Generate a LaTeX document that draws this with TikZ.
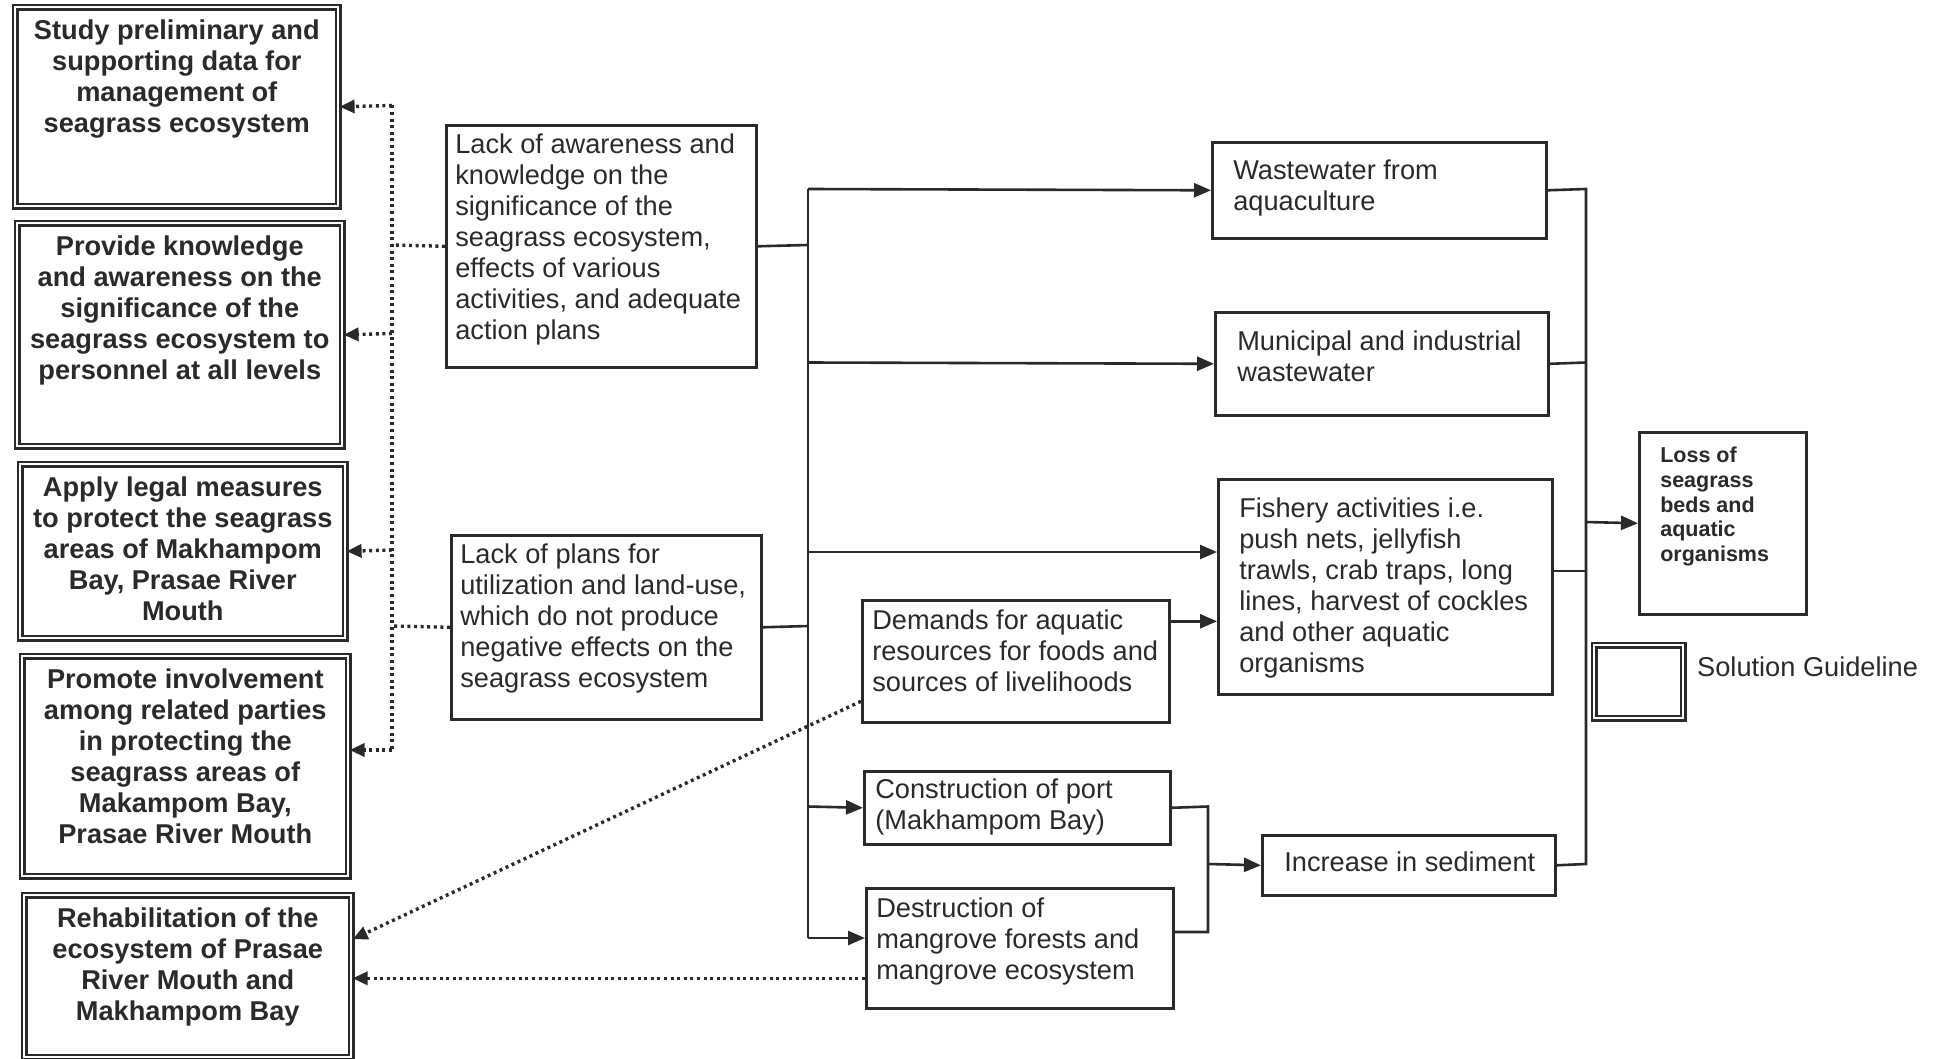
\documentclass[tikz,border=0pt]{standalone}
\usepackage{fontspec}
\setmainfont{Liberation Sans}
\usetikzlibrary{arrows.meta,calc}
\definecolor{ink}{HTML}{2A2A2A}
\newcommand{\solfont}{\fontsize{27.2}{31}\selectfont\bfseries}
\newcommand{\causefont}{\fontsize{27.2}{31}\selectfont}
\newcommand{\lossfont}{\fontsize{21.5}{24.6}\selectfont\bfseries}
\newcommand{\ctext}[4]{\parbox[c][#2pt][t]{#1pt}{\vspace*{#3pt}\centering #4\par}}
\newcommand{\ltext}[5]{\parbox[c][#2pt][t]{#1pt}{\vspace*{#3pt}\raggedright\leftskip=#4pt #5\par}}
\tikzset{
  sol/.style={draw=ink, double, line width=2.6pt, double distance=2.2pt, inner sep=0pt, anchor=north west, font=\solfont, text=ink},
  cause/.style={draw=ink, line width=2.6pt, inner sep=0pt, anchor=north west, font=\causefont, text=ink},
  losses/.style={cause, font=\lossfont},
  legtxt/.style={inner sep=0pt, anchor=west, font=\causefont, text=ink},
  conn/.style={draw=ink, line width=2.6pt},
  arr/.style={conn, -{Triangle[length=17pt,width=14pt]}},
  dotl/.style={draw=ink, line width=3.4pt, dash pattern=on 3pt off 3.6pt},
  dotarr/.style={dotl, -{Triangle[length=15pt,width=13pt]}}
}
\begin{document}
\begin{tikzpicture}[x=1pt,y=-1pt]
\fill[white] (0,0) rectangle (1938,1059);
\useasboundingbox (0,0) rectangle (1938,1059);

% solution guidelines (left)
\node[sol] (s1) at (14,6) {\ctext{323}{199}{12}{Study preliminary and\\supporting data for\\management of\\seagrass ecosystem}};
\node[sol] (s2) at (16,222) {\ctext{325}{223}{12}{Provide knowledge\\and awareness on the\\significance of the\\seagrass ecosystem to\\personnel at all levels}};
\node[sol] (s3) at (19,463) {\ctext{325}{174}{12}{Apply legal measures\\to protect the seagrass\\areas of Makhampom\\Bay, Prasae River\\Mouth}};
\node[sol] (s4) at (21,655) {\ctext{326}{220}{12}{Promote involvement\\among related parties\\in protecting the\\seagrass areas of\\Makampom Bay,\\Prasae River Mouth}};
\node[sol] (s5) at (23,894) {\ctext{327}{162}{12}{Rehabilitation of the\\ecosystem of Prasae\\River Mouth and\\Makhampom Bay}};

% causes
\node[cause] (ca) at (445,124) {\ltext{310}{242}{8}{9}{Lack of awareness and\\knowledge on the\\significance of the\\seagrass ecosystem,\\effects of various\\activities, and adequate\\action plans}};
\node[cause] (cb) at (450,534) {\ltext{310}{184}{8}{9}{Lack of plans for\\utilization and land-use,\\which do not produce\\negative effects on the\\seagrass ecosystem}};
\node[cause] (ww) at (1211,141) {\ltext{334}{96}{18}{21}{Wastewater from\\aquaculture}};
\node[cause] (mw) at (1214,311) {\ltext{333}{103}{18}{22}{Municipal and industrial\\wastewater}};
\node[cause] (fa) at (1217,478) {\ltext{334}{215}{18}{21}{Fishery activities i.e.\\push nets, jellyfish\\trawls, crab traps, long\\lines, harvest of cockles\\and other aquatic\\organisms}};
\node[cause] (dm) at (861,599) {\ltext{307}{122}{9}{10}{Demands for aquatic\\resources for foods and\\sources of livelihoods}};
\node[cause] (cp) at (863,770) {\ltext{306}{73}{7}{11}{Construction of port\\(Makhampom Bay)}};
\node[cause] (dmg) at (865,887) {\ltext{307}{120}{9}{10}{Destruction of\\mangrove forests and\\mangrove ecosystem}};
\node[cause] (is) at (1261,834) {\ltext{293}{60}{16}{22}{Increase in sediment}};
\node[losses] (loss) at (1638,431) {\ltext{167}{182}{15}{21}{Loss of\\seagrass\\beds and\\aquatic\\organisms}};

% legend
\node[sol, minimum width=89pt, minimum height=73pt] (leg) at (1593,644) {};
\node[legtxt] (legt) at (1697,667) {Solution Guideline};

% dotted links to solutions
\coordinate (b1) at (392,105.5);
\coordinate (b2) at (392,333.5);
\coordinate (b3) at (392,550);
\coordinate (b4) at (392,750);
\coordinate (bca) at (392,245);
\coordinate (bcb) at (392,626);
\draw[dotl] (b1) -- (b4);
\draw[dotl] (ca.west) -- (bca);
\draw[dotl] (cb.west) -- (bcb);
\draw[dotarr] (b1) -- (s1.east);
\draw[dotarr] (b2) -- (s2.east);
\draw[dotarr] (b3) -- (s3.east);
\draw[dotarr] (b4) -- (b4 -| s4.east);
\coordinate (dd) at ([yshift=-40pt]dm.west);
\coordinate (de) at ([yshift=37pt]s5.east);
\draw[dotarr] (dd) -- (de);
\coordinate (hd) at ([yshift=-30pt]dmg.west);
\draw[dotarr] (hd) -- (hd -| s5.east);

% trunk from causes
\coordinate (t1) at (808,189);
\coordinate (tca) at (808,245);
\coordinate (t2) at (808,362.5);
\coordinate (t3) at (808,552);
\coordinate (tcb) at (808,626);
\coordinate (t4) at (808,806.5);
\coordinate (t5) at (808,938);
\draw[conn] (t1) -- (t5);
\draw[conn] (ca.east) -- (tca);
\draw[conn] (cb.east) -- (tcb);
\draw[arr] (t1) -- (ww.west);
\draw[arr] (t2) -- (mw.west);
\draw[arr] (t3) -- (t3 -| fa.west);
\draw[arr] (t4) -- (cp.west);
\draw[arr] (t5) -- (t5 -| dmg.west);
\coordinate (d1) at ([yshift=40pt]dm.east);
\draw[arr] (d1) -- (d1 -| fa.west);

% sediment junction
\coordinate (j1) at (1208,806.5);
\coordinate (j2) at (1208,932);
\coordinate (jm) at (1208,864);
\draw[conn] (cp.east) -- (j1) -- (j2) -- (j2 -| dmg.east);
\draw[arr] (jm) -- (is.west);

% collector to loss
\coordinate (r1) at (1586,189);
\coordinate (r2) at (1586,362.5);
\coordinate (r3) at (1586,571);
\coordinate (r4) at (1586,864);
\coordinate (rl) at (1586,522);
\draw[conn] (ww.east) -- (r1) -- (r4) -- (is.east);
\draw[conn] (mw.east) -- (r2);
\draw[conn] (r3 -| fa.east) -- (r3);
\draw[arr] (rl) -- (loss.west);
\end{tikzpicture}
\end{document}
